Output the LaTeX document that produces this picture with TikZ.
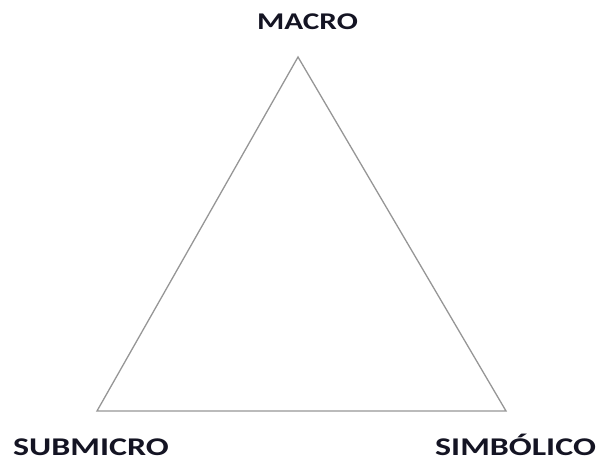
\documentclass[tikz,border=0pt]{standalone}
\usepackage{fontspec}
\setmainfont{Carlito}
\definecolor{labelcol}{RGB}{20,20,35}
\definecolor{edgecol}{RGB}{150,150,150}
\begin{document}
\begin{tikzpicture}[x=1pt,y=-1pt,
  lbl/.style={inner sep=0pt, text=labelcol, font=\fontsize{24}{28}\selectfont\bfseries},
  lblbig/.style={lbl, font=\fontsize{25.5}{30}\selectfont\bfseries},
  edge/.style={draw=edgecol, line width=1.3pt, line join=miter}]
\useasboundingbox (0,0) rectangle (597,460);
\coordinate (top) at (298,57);
\coordinate (bl) at (97,411);
\coordinate (br) at (506,411);
\draw[edge] (top) -- (bl) -- (br) -- cycle;
\node[lbl, anchor=base] (macro) at (307.5,30) {\scalebox{1.3}[1]{MACRO}};
\node[lblbig, anchor=base west] (sub) at (13,455) {\scalebox{1.33}[1]{SUBMICRO}};
\node[lblbig, anchor=base west] (sim) at (435,455) {\scalebox{1.33}[1]{SIMBÓLICO}};
\end{tikzpicture}
\end{document}
